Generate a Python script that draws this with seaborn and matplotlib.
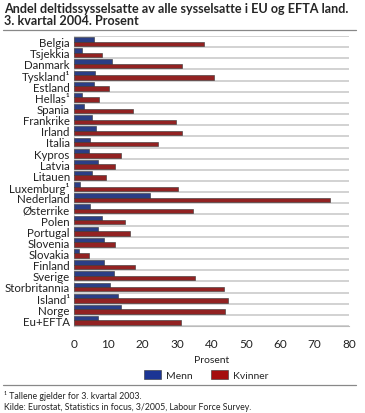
import matplotlib
matplotlib.use("Agg")
import matplotlib.pyplot as plt
import pandas as pd
import seaborn as sns
from matplotlib.lines import Line2D
from matplotlib.patches import Patch

countries = ["Belgia", "Tsjekkia", "Danmark", "Tyskland¹", "Estland", "Hellas¹",
             "Spania", "Frankrike", "Irland", "Italia", "Kypros", "Latvia", "Litauen",
             "Luxemburg¹", "Nederland", "Østerrike", "Polen", "Portugal", "Slovenia",
             "Slovakia", "Finland", "Sverige", "Storbritannia", "Island¹", "Norge", "Eu+EFTA"]
menn = [5.9, 2.2, 11.0, 6.2, 5.9, 2.2, 2.8, 5.2, 6.3, 4.7, 4.4, 6.9, 5.2,
        1.6, 22.1, 4.6, 8.2, 7.0, 8.7, 1.5, 8.8, 11.6, 10.4, 12.7, 13.6, 6.9]
kvinner = [37.8, 8.1, 31.4, 40.8, 10.2, 7.4, 17.3, 29.8, 31.4, 24.4, 13.6, 11.8, 9.4,
           30.3, 74.6, 34.5, 14.7, 16.2, 12.0, 4.3, 17.8, 35.2, 43.6, 44.8, 43.8, 31.1]
x_ticks = [0, 10, 20, 30, 40, 50, 60, 70, 80]

df = pd.DataFrame({"land": countries * 2,
                   "verdi": menn + kvinner,
                   "kjonn": ["Menn"] * len(countries) + ["Kvinner"] * len(countries)})

sns.set_style("white")
plt.rcParams["font.family"] = ["Lato", "DejaVu Sans"]

colors = {"Menn": "#1c3594", "Kvinner": "#a50f0f"}

fig = plt.figure(figsize=(3.65, 4.14), dpi=100)
ax = fig.add_axes([74 / 365, 1 - 327 / 414, 275 / 365, 290 / 414])

sns.barplot(data=df, y="land", x="verdi", hue="kjonn", orient="h", palette=colors,
            width=0.8, edgecolor="#333333", linewidth=0.4, ax=ax, legend=False, zorder=3)

for i in range(len(countries) + 1):
    ax.axhline(i - 0.5, color="#cfcfcf", lw=1.3, zorder=1)

ax.set_xlim(0, 80)
ax.set_ylim(len(countries) - 0.5, -0.5)
ax.set_xticks(x_ticks)
ax.set_xticklabels([str(t) for t in x_ticks], fontsize=8.5, color="#222222")
ax.tick_params(axis="x", direction="in", length=4, color="#bbbbbb", pad=9)
ax.tick_params(axis="y", length=0, pad=3, labelsize=8.3, labelcolor="#222222")
ax.set_ylabel("")
ax.set_xlabel("Prosent", fontsize=7.5, labelpad=4, color="#222222")
for s in ["top", "right"]:
    ax.spines[s].set_visible(False)
ax.spines["bottom"].set_color("#bbbbbb")
ax.spines["left"].set_color("#cfcfcf")

handles = [Patch(facecolor=colors["Menn"], edgecolor="#333333", lw=0.4),
           Patch(facecolor=colors["Kvinner"], edgecolor="#333333", lw=0.4)]
fig.legend(handles, ["Menn", "Kvinner"], loc="center", bbox_to_anchor=(0.565, 1 - 376 / 414),
           ncol=2, frameon=False, fontsize=7.5, handlelength=1.6, handleheight=0.9,
           columnspacing=1.8, handletextpad=0.5)

fig.text(0.012, 1 - 3 / 414, "Andel deltidssysselsatte av alle sysselsatte i EU og EFTA land.\n3. kvartal 2004. Prosent",
         fontsize=9.1, fontweight="bold", va="top", ha="left", linespacing=1.0)
fig.add_artist(Line2D([0.008, 0.975], [1 - 31 / 414] * 2, color="#888888", lw=0.9))
fig.add_artist(Line2D([0.008, 0.975], [1 - 386 / 414] * 2, color="#888888", lw=0.9))
fig.text(0.012, 1 - 396 / 414, "¹ Tallene gjelder for 3. kvartal 2003.", fontsize=6.3,
         va="center", ha="left", color="#222222")
fig.text(0.012, 1 - 408 / 414, "Kilde: Eurostat, Statistics in focus, 3/2005, Labour Force Survey.",
         fontsize=6.3, va="center", ha="left", color="#222222")

fig.savefig("out.png", dpi=100)
